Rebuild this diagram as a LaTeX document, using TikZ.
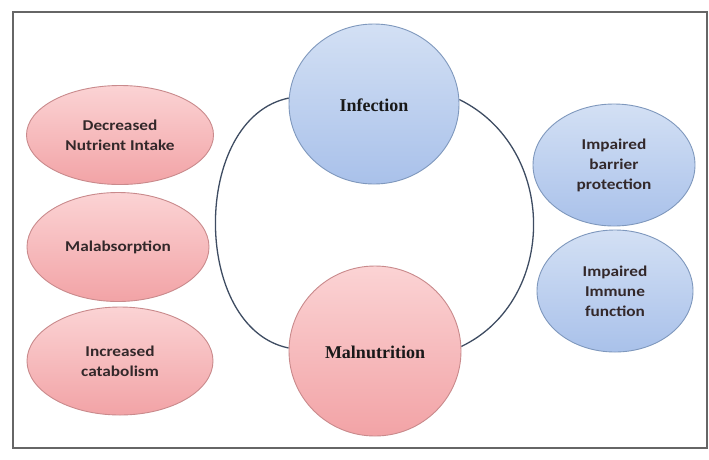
\documentclass[tikz,border=0pt]{standalone}
\usepackage{fontspec}
\setmainfont{Liberation Serif}
\newfontfamily\carlitofont[FakeStretch=1.15]{Carlito}
\usetikzlibrary{shapes.geometric,backgrounds}
\definecolor{pinkbd}{HTML}{C98A8C}
\definecolor{bluebd}{HTML}{7F98BD}
\definecolor{pinktop}{HTML}{FBD3D4}
\definecolor{pinkbot}{HTML}{F2A3A6}
\definecolor{bluetop}{HTML}{D3E0F4}
\definecolor{bluebot}{HTML}{A9C1EA}
\definecolor{loopc}{HTML}{3E4C62}
\definecolor{txtc}{HTML}{33282A}
\begin{document}
\begin{tikzpicture}[x=1pt,y=-1pt,
  pinkell/.style={ellipse,draw=pinkbd,line width=0.9pt,top color=pinktop,bottom color=pinkbot,inner sep=0pt,align=center,text=txtc,font=\carlitofont\bfseries\fontsize{15}{20}\selectfont},
  blueell/.style={ellipse,draw=bluebd,line width=0.9pt,top color=bluetop,bottom color=bluebot,inner sep=0pt,align=center,text=txtc,font=\carlitofont\bfseries\fontsize{15}{20}\selectfont},
  bigtxt/.style={font=\bfseries\fontsize{18}{22}\selectfont,text=black!90},
  loopline/.style={draw=loopc,line width=1.3pt}]
\useasboundingbox (0,0) rectangle (709,459);
% central nodes
\node[blueell,minimum width=170pt,minimum height=160pt] (inf) at (374,104) {};
\node[bigtxt] (inftxt) at (374,105) {Infection};
\node[pinkell,minimum width=172pt,minimum height=170pt] (mal) at (375,351) {};
\node[bigtxt] (maltxt) at (375,352) {Malnutrition};
% left
\node[pinkell,minimum width=187pt,minimum height=99pt] (dec) at (120,135) {Decreased\\Nutrient Intake};
\node[pinkell,minimum width=182pt,minimum height=109pt] (malab) at (118,247) {Malabsorption};
\node[pinkell,minimum width=186pt,minimum height=108pt] (incr) at (120,361) {Increased\\catabolism};
% right
\node[blueell,minimum width=162pt,minimum height=122pt] (bar) at (614,165) {Impaired\\barrier\\protection};
\node[blueell,minimum width=156pt,minimum height=122pt] (imm) at (615,291) {Impaired\\Immune\\function};
\begin{scope}[on background layer]
  \fill[white] (0,0) rectangle (709,459);
  \draw[gray!80!black,line width=1.6pt] (13,12) rectangle (707,448);
  % loop arcs
  \draw[loopline] (inf.176) .. controls (191,118) and (191,328) .. (mal.178);
  \draw[loopline] (inf.3) .. controls (558,148) and (558,300) .. (mal.3);
\end{scope}
\end{tikzpicture}
\end{document}
